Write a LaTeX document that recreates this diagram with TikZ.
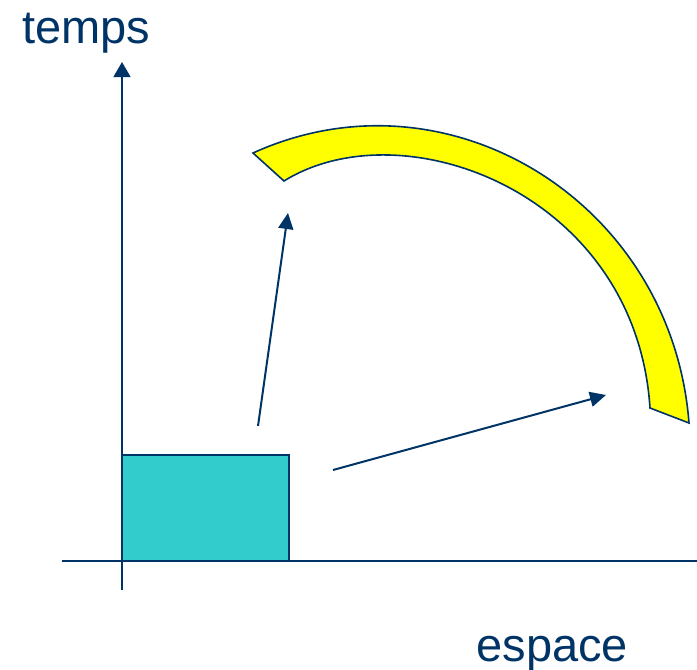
\documentclass[tikz,border=0pt]{standalone}
\usepackage{fontspec}
\setmainfont{Liberation Sans}
\usetikzlibrary{arrows.meta}
\definecolor{navyPP}{RGB}{0,51,102}
\definecolor{tealPP}{RGB}{51,204,204}
\definecolor{jaunePP}{RGB}{255,255,0}

\begin{document}
\begin{tikzpicture}[x=0.5pt,y=-0.5pt,
    axe/.style={-{Triangle[length=7.5pt,width=8.5pt]},line width=0.7pt,navyPP},
    fleche/.style={-{Triangle[length=8pt,width=7.5pt]},line width=1pt,navyPP},
    bloc/.style={fill=tealPP,draw=navyPP,line width=0.9pt},
    bande/.style={fill=jaunePP,draw=navyPP,line width=0.8pt,line join=miter},
    etiq/.style={font=\fontsize{23.5}{28}\selectfont,text=navyPP,inner sep=0pt}
  ]
    \useasboundingbox (0,0) rectangle (697,670);
    \clip (0,0) rectangle (697,670);
    \coordinate (o) at (122,561);
    \coordinate (ybas) at (122,590);
    \coordinate (yhaut) at (122,62);
    \coordinate (xgauche) at (62,561);
    \coordinate (xdroite) at (712,561);
    \draw[axe] (ybas) -- (yhaut);
    \draw[axe] (xgauche) -- (xdroite);
    \draw[bloc] (o) rectangle (289,455);
    \draw[bande] (253,153) .. controls (449,64) and (672,203) .. (689,423)
      -- (650,408) .. controls (636,193) and (403,107) .. (284,181) -- cycle;
    \coordinate (d1) at (258,426);
    \coordinate (a1) at (288,213);
    \coordinate (d2) at (333,470);
    \coordinate (a2) at (606,395);
    \draw[fleche] (d1) -- (a1);
    \draw[fleche] (d2) -- (a2);
    \node[etiq,anchor=base west] (temps) at (22,43) {temps};
    \node[etiq,anchor=base west] (espace) at (476,661) {espace};
  \end{tikzpicture}
\end{document}
